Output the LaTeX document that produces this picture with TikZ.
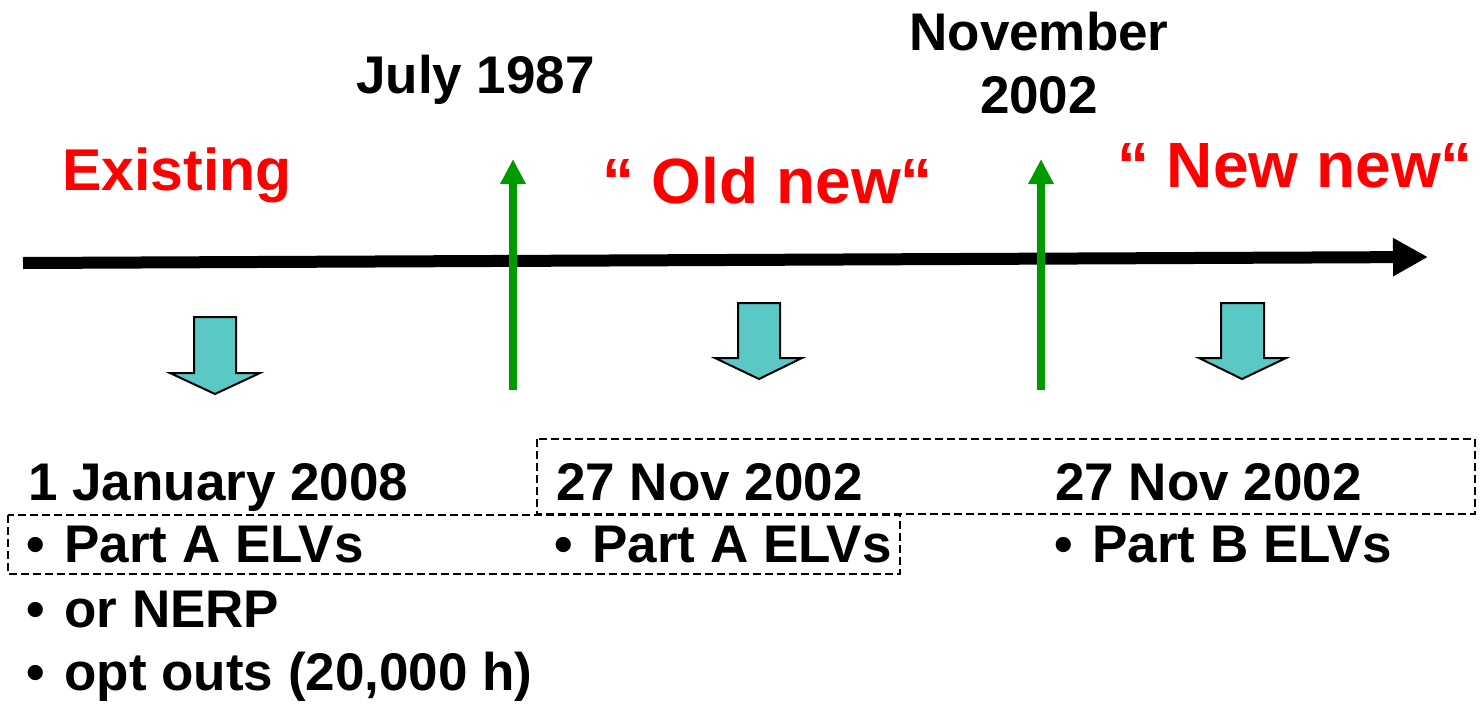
\documentclass[tikz,border=0pt]{standalone}
\usepackage{fontspec}
\setmainfont{Liberation Sans}
\usetikzlibrary{arrows.meta}
\definecolor{tlred}{RGB}{255,0,0}
\definecolor{tlgreen}{RGB}{0,153,0}
\definecolor{tlcyan}{RGB}{90,200,196}
\newcommand{\blt}{•\hspace{0.37em}}
\begin{document}
\begin{tikzpicture}[x=1pt,y=-1pt,
 lbl/.style={anchor=base west,inner sep=0pt,font=\fontsize{53}{63}\selectfont\bfseries},
 lblc/.style={lbl,anchor=base},
 era/.style={anchor=base west,inner sep=0pt,text=tlred,font=\fontsize{59}{70}\selectfont\bfseries},
 quoted/.style={era,font=\fontsize{64}{76}\selectfont\bfseries},
 milestone/.style={draw=tlgreen,line width=8pt,-{Triangle[width=24pt,length=25pt]}},
 timeline/.style={draw=black,line width=12pt,-{Triangle[width=36pt,length=35pt]}},
 blockarrow/.style={fill=tlcyan,draw=black,line width=2pt},
 dbox/.style={draw=black,line width=1.6pt,dash pattern=on 8pt off 4pt},
]
\useasboundingbox (0,0) rectangle (1481,723);

% timeline
\coordinate (tl0) at (23,263);
\coordinate (tl1) at (1428,257);
\draw[timeline] (tl0) -- (tl1);

% milestones
\coordinate (g1s) at (513,390);
\coordinate (g1e) at (513,159);
\coordinate (g2s) at (1041,390);
\coordinate (g2e) at (1041,159);
\draw[milestone] (g1s) -- (g1e);
\draw[milestone] (g2s) -- (g2e);

% block arrows
\draw[blockarrow] (194,317) -- (236,317) -- (236,373) -- (260,373) -- (215,394) -- (170,373) -- (194,373) -- cycle;
\draw[blockarrow] (738,303) -- (780,303) -- (780,358) -- (802,358) -- (759,379) -- (715,358) -- (738,358) -- cycle;
\draw[blockarrow] (1221,303) -- (1264,303) -- (1264,358) -- (1286,358) -- (1242,379) -- (1199,358) -- (1221,358) -- cycle;

% dashed boxes
\draw[dbox] (8,515) rectangle (900,574);
\draw[dbox] (537,439) rectangle (1475,514);

% headings
\node[lbl] (july) at (356,93) {July 1987};
\node[lblc] (nov1) at (1039,50) {November};
\node[lblc] (nov2) at (1039,113) {2002};
\node[era] (exist) at (62,190) {Existing};
\node[quoted] (oldnew) at (602,203) {“ Old new“};
\node[quoted] (newnew) at (1117,187) {“ New new“};

% left column
\node[lbl] (l1) at (28,500) {1 January 2008};
\node[lbl] (l2) at (26,562) {\blt Part A ELVs};
\node[lbl] (l3) at (26,627) {\blt or NERP};
\node[lbl] (l4) at (26,690) {\blt opt outs (20,000 h)};

% middle column
\node[lbl] (m1) at (556,500) {27 Nov 2002};
\node[lbl] (m2) at (554,562) {\blt Part A ELVs};

% right column
\node[lbl] (r1) at (1055,500) {27 Nov 2002};
\node[lbl] (r2) at (1054,562) {\blt Part B ELVs};
\end{tikzpicture}
\end{document}
